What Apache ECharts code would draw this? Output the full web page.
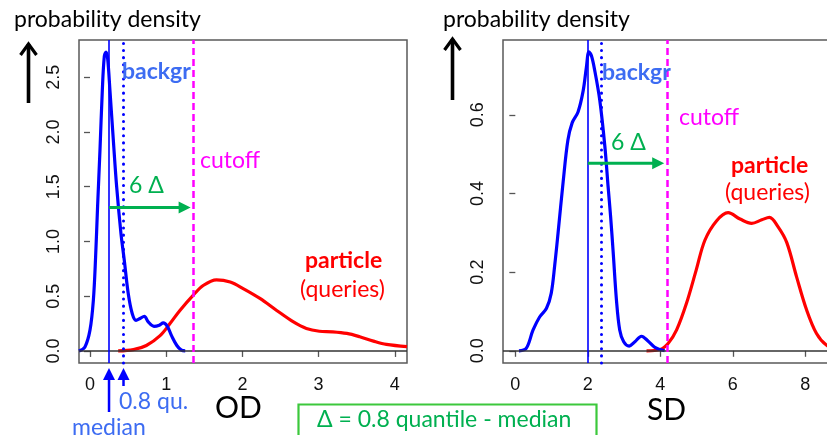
<!DOCTYPE html>
<html><head><meta charset="utf-8">
<script src="https://cdn.jsdelivr.net/npm/echarts@6/dist/echarts.min.js"></script>
<style>html,body{margin:0;padding:0;background:#fff}#c{width:827px;height:435px}</style>
</head><body><div id="c"></div><script>
// ---- data ----
const odXTicks = [0, 1, 2, 3, 4];
const odYTicks = [0, 0.5, 1, 1.5, 2, 2.5];
const sdXTicks = [0, 2, 4, 6, 8];
const sdYTicks = [0, 0.2, 0.4, 0.6];

const odBackgr = [[-0.144,0],[-0.066,0.037],[0,0.19],[0.044,0.46],[0.074,0.86],[0.10,1.32],[0.131,1.83],[0.162,2.38],[0.188,2.69],[0.21,2.73],[0.232,2.67],[0.262,2.38],[0.306,1.93],[0.35,1.50],[0.407,1.07],[0.45,0.83],[0.503,0.52],[0.555,0.34],[0.604,0.28],[0.656,0.296],[0.713,0.317],[0.765,0.265],[0.84,0.225],[0.91,0.235],[0.962,0.256],[1.015,0.225],[1.07,0.14],[1.14,0.05],[1.20,0.007],[1.25,0]];
const odParticle = [[0.37,0],[0.57,0.012],[0.74,0.05],[0.92,0.14],[1.05,0.25],[1.18,0.37],[1.356,0.51],[1.49,0.60],[1.66,0.65],[1.84,0.63],[2.01,0.57],[2.23,0.48],[2.45,0.37],[2.67,0.265],[2.84,0.205],[3.01,0.18],[3.18,0.175],[3.37,0.16],[3.54,0.13],[3.72,0.09],[3.89,0.06],[4.16,0.04]];
const sdBackgr = [[0.10,0],[0.30,0.006],[0.49,0.053],[0.67,0.086],[0.86,0.108],[0.99,0.146],[1.09,0.22],[1.18,0.30],[1.32,0.43],[1.45,0.535],[1.57,0.58],[1.73,0.607],[1.87,0.66],[1.96,0.72],[2.03,0.76],[2.10,0.75],[2.19,0.713],[2.33,0.637],[2.47,0.52],[2.56,0.417],[2.63,0.34],[2.70,0.25],[2.79,0.129],[2.88,0.053],[2.99,0.023],[3.14,0.012],[3.30,0.023],[3.48,0.037],[3.66,0.025],[3.85,0.009],[4.12,0]];
const sdParticle = [[3.62,0],[4.0,0.0034],[4.22,0.019],[4.45,0.053],[4.72,0.12],[4.99,0.205],[5.23,0.281],[5.55,0.33],[5.87,0.351],[6.2,0.335],[6.52,0.324],[6.8,0.333],[7.01,0.339],[7.25,0.315],[7.49,0.275],[7.76,0.188],[8.04,0.103],[8.31,0.044],[8.59,0.014],[8.9,0.004]];

// median, 0.8 quantile, cutoff
const odRefLines = [0.25, 0.44, 1.36];
const sdRefLines = [2.0, 2.37, 4.19];
const arrowLevels = [1.31, 0.477]; // height of the "6 Δ" arrow in OD and SD panels

// ---- chart ----
const chart = echarts.init(document.getElementById('c'), null, {renderer: 'canvas'});
const TICK_FONT = 'Liberation Sans';
const TXT_FONT = 'Lato';

function xAx(gi, min, max, ticks) {
  return {type:'value', gridIndex:gi, min, max,
    axisLine:{show:false}, splitLine:{show:false},
    axisTick:{show:true, customValues:ticks, length:6, lineStyle:{color:'#555', width:1.3}},
    axisLabel:{customValues:ticks, color:'#111', fontFamily:TICK_FONT, fontSize:18, margin:13}};
}
function yAx(gi, min, max, ticks) {
  return {type:'value', gridIndex:gi, min, max,
    axisLine:{show:false}, splitLine:{show:false},
    axisTick:{show:true, customValues:ticks, length:6, lineStyle:{color:'#555', width:1.3}},
    axisLabel:{customValues:ticks, color:'#111', fontFamily:TICK_FONT, fontSize:18, margin:16, rotate:90,
      align:'center', verticalAlign:'bottom', formatter: v => v.toFixed(1)}};
}
function refMarks(lines) {
  return {silent:true, symbol:['none','none'], animation:false, label:{show:false},
    emphasis:{disabled:true},
    data:[
      {yAxis:0, lineStyle:{color:'#333', width:1.5, type:'solid'}},
      {xAxis:lines[0], lineStyle:{color:'#0000ff', width:1.6, type:'solid'}},
      {xAxis:lines[1], lineStyle:{color:'#0000ff', width:3, type:[0.1,7], cap:'round'}},
      {xAxis:lines[2], lineStyle:{color:'#ff00ff', width:2.5, type:[7,4]}}
    ]};
}
function curve(data, gi, color, marks) {
  const s = {type:'line', data, xAxisIndex:gi, yAxisIndex:gi, smooth:0.35, symbol:'none',
    clip:true, animation:false, lineStyle:{color, width:3.2}, z:3};
  if (marks) s.markLine = marks;
  return s;
}

chart.setOption({
  backgroundColor:'#fff',
  animation:false,
  grid:[
    {left:79, right:420, top:40, bottom:72, show:true, borderColor:'#5a5a5a', borderWidth:1.5, backgroundColor:'transparent', outerBoundsMode:'none', containLabel:false},
    {left:503, right:-10, top:40, bottom:72, show:true, borderColor:'#5a5a5a', borderWidth:1.5, backgroundColor:'transparent', outerBoundsMode:'none', containLabel:false}
  ],
  xAxis:[xAx(0, -0.144, 4.16, odXTicks), xAx(1, -0.34, 8.875, sdXTicks)],
  yAxis:[yAx(0, -0.11, 2.84, odYTicks), yAx(1, -0.031, 0.79, sdYTicks)],
  series:[
    curve(odParticle, 0, '#ff0000', refMarks(odRefLines)),
    curve(odBackgr, 0, '#0000ff'),
    curve(sdParticle, 1, '#ff0000', refMarks(sdRefLines)),
    curve(sdBackgr, 1, '#0000ff')
  ]
});

// ---- annotations ----
const P = (gi, x, y) => chart.convertToPixel({gridIndex:gi}, [x, y]);
const G = [];
function txt(x, y, text, color, size, weight, font) {
  G.push({type:'text', x, y, silent:true, z:10, style:{text, fill:color, fontSize:size,
    fontWeight:weight||'normal', fontFamily:font||TXT_FONT, textAlign:'left', textVerticalAlign:'middle'}});
}
function filledArrow(x1, y1, x2, y2, color, w, hl, hw) {
  const dx = x2-x1, dy = y2-y1, L = Math.hypot(dx, dy), ux = dx/L, uy = dy/L;
  const bx = x2-ux*hl, by = y2-uy*hl;
  G.push({type:'line', silent:true, z:10, shape:{x1, y1, x2:bx+ux*1, y2:by+uy*1}, style:{stroke:color, lineWidth:w}});
  G.push({type:'polygon', silent:true, z:10, shape:{points:[[x2,y2],[bx-uy*hw,by+ux*hw],[bx+uy*hw,by-ux*hw]]}, style:{fill:color}});
}
function blackArrow(x, yTop, yBot) {
  G.push({type:'line', silent:true, z:10, shape:{x1:x, y1:yTop+1, x2:x, y2:yBot}, style:{stroke:'#000', lineWidth:3.6}});
  G.push({type:'polyline', silent:true, z:10, shape:{points:[[x-8,yTop+12],[x,yTop+1],[x+8,yTop+12]]}, style:{stroke:'#000', lineWidth:3.2, fill:null}});
}

const BLUE_TXT = '#3d6cf2', GREEN = '#00b050', MAG = '#ff00ff', RED = '#ff0000';
const FS = 23;

// left panel
txt(14, 20, 'probability density', '#000', FS);
blackArrow(28.5, 43, 103);
txt(122, 72, 'backgr', BLUE_TXT, FS, 'bold');
txt(200, 161, 'cutoff', MAG, FS);
txt(129, 186, '6 Δ', GREEN, FS);
txt(305, 261, 'particle', RED, FS, 'bold');
txt(300, 290, '(queries)', RED, FS);
txt(215, 408, 'OD', '#000', 30);
{
  const a = P(0, odRefLines[0], arrowLevels[0]);
  const b = P(0, odRefLines[2], arrowLevels[0]);
  filledArrow(a[0], a[1], b[0]-3, b[1], GREEN, 3, 12, 6);
  const m = P(0, odRefLines[0], 0)[0];
  const q = P(0, odRefLines[1], 0)[0];
  filledArrow(m, 412, m, 368, '#0000ff', 2.5, 12, 6);
  filledArrow(q, 386, q, 368, '#0000ff', 2.5, 12, 6);
}
txt(119, 402, '0.8 qu.', BLUE_TXT, FS);
txt(72, 428, 'median', BLUE_TXT, FS);

// right panel
txt(443, 20, 'probability density', '#000', FS);
blackArrow(452.5, 38, 100);
txt(602, 73, 'backgr', BLUE_TXT, FS, 'bold');
txt(679, 118, 'cutoff', MAG, FS);
txt(611, 143, '6 Δ', GREEN, FS);
txt(731, 166, 'particle', RED, FS, 'bold');
txt(725, 193, '(queries)', RED, FS);
txt(647, 410, 'SD', '#000', 30);
{
  const a = P(1, sdRefLines[0], arrowLevels[1]);
  const b = P(1, sdRefLines[2], arrowLevels[1]);
  filledArrow(a[0], a[1], b[0]-3, b[1], GREEN, 3, 12, 6);
}

// formula box
G.push({type:'rect', silent:true, z:10, shape:{x:298.5, y:404.5, width:298, height:32}, style:{fill:'#fff', stroke:'#3cc83c', lineWidth:2.2}});
txt(317, 420, 'Δ = 0.8 quantile - median', GREEN, 23);

chart.setOption({graphic:G});
</script></body></html>
